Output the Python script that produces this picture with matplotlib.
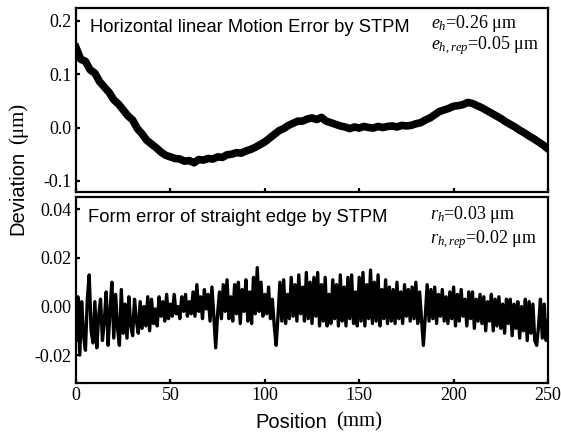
import numpy as np
import matplotlib
matplotlib.use("Agg")
import matplotlib.pyplot as plt

plt.rcParams['mathtext.fontset'] = 'custom'
plt.rcParams['mathtext.it'] = 'Liberation Serif:italic'
plt.rcParams['mathtext.rm'] = 'Liberation Serif'

# ---- data ----
pos_top = np.arange(0, 250.1, 2.5)
dev_top = [0.150, 0.128, 0.124, 0.108, 0.102, 0.086, 0.076, 0.066, 0.052, 0.044,
           0.033, 0.022, 0.014, -0.002, -0.012, -0.024, -0.031, -0.038, -0.046, -0.052,
           -0.055, -0.058, -0.059, -0.063, -0.062, -0.066, -0.060, -0.061, -0.058, -0.059,
           -0.055, -0.056, -0.051, -0.050, -0.047, -0.048, -0.044, -0.041, -0.037, -0.032,
           -0.027, -0.020, -0.013, -0.006, -0.002, 0.004, 0.008, 0.012, 0.012, 0.016,
           0.018, 0.015, 0.019, 0.012, 0.009, 0.006, 0.003, 0.001, -0.002, 0.001,
           -0.001, 0.002, 0.000, -0.001, 0.002, 0.000, 0.002, 0.003, 0.001, 0.004,
           0.003, 0.004, 0.007, 0.009, 0.014, 0.018, 0.024, 0.030, 0.033, 0.036,
           0.040, 0.041, 0.043, 0.047, 0.045, 0.041, 0.037, 0.032, 0.027, 0.022,
           0.017, 0.011, 0.006, 0.001, -0.005, -0.010, -0.016, -0.021, -0.027, -0.033,
           -0.040]

pos_bot = np.arange(0, 251, 1)
form_bot_nm = [
    -14, 4, -20, 2, -12, -18, 3, 13, -10, -15,
    2, -17, -4, 3, -14, -6, 6, -16, -2, 10,
    -13, 5, -9, -16, 7, -11, 1, -13, 4, -8,
    -12, 3, -6, -11, 2, -9, 0, -8, 4, -10,
    3, -7, -1, -8, 4, -4, 2, -6, 5, -5,
    1, -4, 5, -3, 0, -5, 4, -2, 5, -4,
    2, -3, 6, -4, 9, -2, 4, -5, 7, -1,
    5, -6, 8, -4, -17, -3, 6, -5, 9, -2,
    11, -5, 4, -6, 9, -3, 10, -7, 7, -2,
    11, -6, 6, -7, 12, -3, 16, -2, 10, -4,
    5, -3, 8, -5, 3, -8, -16, -4, 10, -6,
    11, -7, 5, -5, 12, -4, 9, -6, 13, -3,
    8, -6, 14, -5, 10, -7, 12, -4, 14, -8,
    9, -6, 12, -8, 5, -7, 11, -5, 9, -8,
    13, -6, 8, -8, 12, -5, 13, -7, 6, -8,
    12, -6, 14, -8, 9, -5, 15, -7, 10, -6,
    13, -8, 7, -5, 11, -7, 8, -6, 7, -7,
    10, -5, 6, -7, 9, -4, 7, -6, 8, -5,
    10, -7, 6, -5, -16, -4, 9, -6, 7, -5,
    8, -7, 5, -4, 7, -6, 4, -7, 6, -5,
    8, -8, 5, -6, 7, -4, 3, -8, 6, -5,
    6, -9, 3, -6, 5, -7, 4, -10, 2, -6,
    5, -10, 3, -8, 4, -9, 1, -11, 3, -7,
    3, -12, 1, -9, 2, -13, 0, -10, 3, -14,
    2, -11, 1, -14, -16, -8, 3, -13, 1, -14,
    -6]
form_bot = np.array(form_bot_nm) / 1000.0

xticks = [0, 50, 100, 150, 200, 250]
yticks_top = [-0.1, 0.0, 0.1, 0.2]
yticks_bot = [-0.02, 0.00, 0.02, 0.04]

SANS = 'Liberation Sans'
SERIF = 'Liberation Serif'

fig = plt.figure(figsize=(5.61, 4.32), dpi=100)
W, H = 561, 432
ax1 = fig.add_axes([76 / W, 1 - 192 / H, 472 / W, 184 / H])
ax2 = fig.add_axes([76 / W, 1 - 383 / H, 472 / W, 186 / H])

ax1.plot(pos_top, dev_top, color='black', lw=5.5)
ax2.plot(pos_bot, form_bot, color='black', lw=2.4)

ax1.set_xlim(0, 250)
ax1.set_ylim(-0.1208, 0.224)
ax2.set_xlim(0, 250)
ax2.set_ylim(-0.0315, 0.0451)

for ax in (ax1, ax2):
    for s in ax.spines.values():
        s.set_linewidth(1.6)
    ax.tick_params(direction='in', length=3, width=1.6, pad=3)
    ax.set_xticks(xticks)

ax1.set_yticks(yticks_top)
ax1.set_yticklabels(['-0.1', '0.0', '0.1', '0.2'], fontfamily=SERIF, fontsize=13)
ax1.set_xticklabels([])
ax2.set_yticks(yticks_bot)
ax2.set_yticklabels(['-0.02', '0.00', '0.02', '0.04'], fontfamily=SERIF, fontsize=13)
ax2.set_xticklabels([str(t) for t in xticks], fontfamily=SERIF, fontsize=13)

# titles inside panels
fig.text(90 / W, 1 - 28 / H, 'Horizontal linear Motion Error by STPM',
         fontfamily=SANS, fontsize=13.2, ha='left', va='center')
fig.text(88 / W, 1 - 218 / H, 'Form error of straight edge by STPM',
         fontfamily=SANS, fontsize=13.2, ha='left', va='center')

fig.text(431 / W, 1 - 24 / H, r'$e_h$=0.26 μm', fontfamily=SERIF,
         fontsize=13, ha='left', va='center')
fig.text(431 / W, 1 - 46 / H, r'$e_{h,rep}$=0.05 μm', fontfamily=SERIF,
         fontsize=13, ha='left', va='center')
fig.text(430 / W, 1 - 215 / H, r'$r_h$=0.03 μm', fontfamily=SERIF,
         fontsize=13, ha='left', va='center')
fig.text(430 / W, 1 - 240 / H, r'$r_{h,rep}$=0.02 μm', fontfamily=SERIF,
         fontsize=13, ha='left', va='center')

# axis labels (sans word, serif unit)
fig.text(255 / W, 1 - 422 / H, 'Position', fontfamily=SANS, fontsize=14.5,
         ha='left', va='center')
fig.text(382 / W, 1 - 422 / H, '(mm)', fontfamily=SERIF, fontsize=15,
         ha='right', va='center')
fig.text(18 / W, 1 - 235 / H, 'Deviation', fontfamily=SANS, fontsize=14.5,
         rotation=90, ha='center', va='bottom')
fig.text(18 / W, 1 - 103 / H, '(μm)', fontfamily=SERIF, fontsize=15,
         rotation=90, ha='center', va='top')

fig.savefig('out.png', dpi=100)
